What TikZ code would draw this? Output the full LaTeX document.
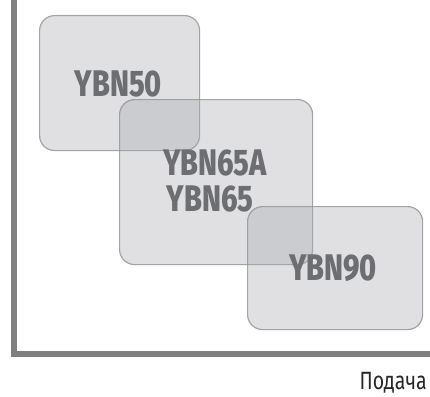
\documentclass[tikz,border=0pt]{standalone}
\usepackage{fontspec}
\usepackage{graphicx}
\setmainfont{Fira Sans}
\newfontfamily\gradefont{Fira Sans ExtraBold}
\definecolor{axisgray}{RGB}{128,128,131}
\definecolor{boxfill}{RGB}{165,167,172}
\definecolor{boxline}{RGB}{150,151,154}
\definecolor{labelgray}{RGB}{109,110,113}
\definecolor{axislabel}{RGB}{40,40,40}
\tikzset{
  zone/.style={draw=boxline, draw opacity=0.85, line width=1.2pt, fill=boxfill, fill opacity=0.34,
    rounded corners=15pt, inner sep=0pt, anchor=north west},
  grade/.style={text=labelgray, inner sep=0pt, font=\gradefont\fontsize{37}{40}\selectfont},
  axis/.style={draw=axisgray, line width=6pt, line join=miter, line cap=butt},
  axislbl/.style={text=axislabel, inner sep=0pt, font=\fontsize{25}{28}\selectfont}
}
\begin{document}
\begin{tikzpicture}[x=1pt,y=-1pt]
\useasboundingbox (0,0) rectangle (430,396);
\fill[white] (0,0) rectangle (430,396);
% axes
\coordinate (top) at (14,0);
\coordinate (corner) at (14,354);
\coordinate (right) at (430,354);
\draw[axis] (top) -- (corner) -- (right);
% zones
\node[zone, minimum width=160pt, minimum height=135pt] (b1) at (39,15) {};
\node[zone, minimum width=193pt, minimum height=165pt] (b2) at (119,99) {};
\node[zone, minimum width=175pt, minimum height=123pt] (b3) at (247,206) {};
% labels
\node[grade] (t1) at (118.5,84) {\scalebox{0.78}[1]{YBN50}};
\node[grade] (t2a) at (215,162.5) {\scalebox{0.78}[1]{YBN65A}};
\node[grade] (t2b) at (210,199) {\scalebox{0.78}[1]{YBN65}};
\node[grade] (t3) at (333,268.5) {\scalebox{0.78}[1]{YBN90}};
\node[axislbl, anchor=base east] (feed) at (427,389) {\scalebox{0.78}[1]{Подача}};
\end{tikzpicture}
\end{document}
